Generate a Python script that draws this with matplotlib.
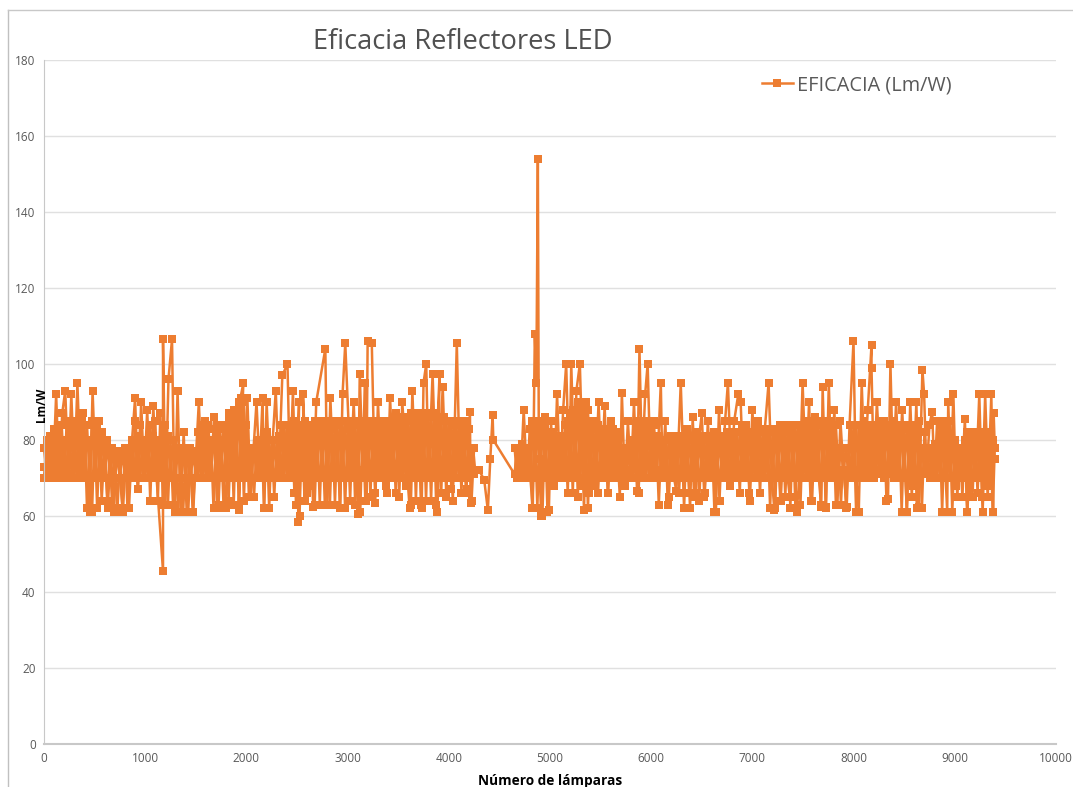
import matplotlib
matplotlib.use("Agg")
import matplotlib.pyplot as plt
from matplotlib.lines import Line2D

nan = float("nan")

# spikes and dips
lamparas = [
    0, 30, 60, 90, 120, 150, 180, 210, 240, 270,
    300, 330, 360, 390, 420, 450, 480, 510, 540, 570,
    600, 630, 660, 690, 720, 750, 780, 810, 840, 870,
    900, 930, 960, 990, 1020, 1050, 1080, 1110, 1176, 1176,
    1200, 1230, 1265, 1290, 1320, 1350, 1380, 1410, 1440, 1470,
    1500, 1530, 1560, 1590, 1620, 1650, 1680, 1710, 1740, 1770,
    1800, 1830, 1860, 1890, 1970, 1923, 1950, 1980, 2010, 2040,
    2100, 2130, 2160, 2174, 2200, 2230, 2260, 2290, 2320, 2355,
    2406, 2430, 2460, 2490, 2520, 2511, 2540, 2570, 2559, 2600,
    2630, 2660, 2690, 2780, 2800, 2830, 2860, 2890, 2926, 2950,
    2977, 3030, 3060, 3103, 3120, 3150, 3170, 3185, 3198, 3239,
    3273, 3300, 3330, 3360, 3390, 3420, 3450, 3480, 3510, 3540,
    3613, 3640, 3670, 3700, 3732, 3750, 3777, 3800, 3840, 3870,
    3909, 3885, 3940, 3970, 4000, 4040, 4079, 4110, 4140, 4170,
    4209, 4215, 4240, 4260, 4300, 4350, 4386, 4410, 4433, 4440,
    4650, 4680, 4710, 4740, 4770, 4800, 4830, 4850, 4865, 4880,
    4890, 4914, 4950, 4989, 5010, 5040, 5070, 5100, 5130, 5160,
    5190, 5210, 5240, 5261, 5295, 5336, 5360, 5390, 5420, 5450,
    5480, 5510, 5540, 5570, 5600, 5630, 5660, 5690, 5710, 5740,
    5770, 5800, 5830, 5860, 5884, 5910, 5940, 5965, 5995, 6025,
    6055, 6095, 6110, 6140, 6163, 6190, 6220, 6248, 6270, 6292,
    6320, 6350, 6384, 6410, 6440, 6470, 6500, 6530, 6560, 6590,
    6620, 6639, 6670, 6700, 6730, 6758, 6790, 6820, 6860, 6884,
    6910, 6940, 6970, 7000, 7030, 7060, 7090, 7120, 7160, 7190,
    7217, 7250, 7280, 7310, 7340, 7370, 7400, 7438, 7470, 7496,
    7530, 7560, 7590, 7620, 7650, 7680, 7694, 7727, 7755, 7780,
    7810, 7840, 7870, 7900, 7932, 7960, 7999, 8020, 8051, 8080,
    8110, 8140, 8177, 8177, 8200, 8230, 8260, 8290, 8320, 8340,
    8364, 8390, 8420, 8450, 8480, 8527, 8560, 8590, 8620, 8646,
    8680, 8697, 8720, 8750, 8776, 8800, 8830, 8860, 8890, 8925,
    8935, 8960, 8986, 9010, 9040, 9070, 9100, 9122, 9116, 9150,
    9180, 9210, 9242, 9270, 9300, 9330, 9361, 9378, 9384, 9395,
]

eficacia = [
    73, 70, 81, 71, 92, 70, 87, 93, 71, 92,
    70, 95, 72, 87, 70, 61, 93, 71, 85, 64,
    80, 62, 78, 61, 77, 70, 61, 78, 62, 80,
    91, 67, 90, 70, 88, 64, 89, 71, 45.5, 106.5,
    63, 96, 106.5, 61, 93, 61, 82, 61, 78, 61,
    75, 90, 70, 85, 76, 70, 86, 62, 83, 72,
    62, 87, 72, 84, 95, 61.5, 91, 73, 91, 65,
    90, 72, 91, 62, 90, 70, 80, 93, 71, 97,
    100, 70, 93, 63, 90, 58.5, 84, 71, 92, 66,
    82, 62.5, 90, 104, 63, 91, 70, 85, 62, 92,
    105.5, 71, 90, 60.5, 97.5, 72, 95, 64, 106, 105.5,
    63.5, 90, 72, 85, 66, 91, 72, 87, 65, 90,
    62, 93, 70, 87, 62, 95, 100, 70, 97.5, 72,
    97.5, 61, 94, 70, 85, 64, 105.5, 70, 85, 66,
    87.5, 63.5, 78, 72, 72, 69.5, 61.5, 75, 86.5, 80,
    71, 78, 70, 88, 71, 72, 62, 108, 95, 154,
    75, 60, 86, 61.5, 85, 68, 92, 70, 88, 100,
    70, 100, 72, 93, 100, 61.5, 90, 66, 85, 70,
    90, 71, 89, 66, 85, 70, 80, 65, 92.5, 68,
    85, 70, 90, 66.5, 104, 72, 92, 100, 70, 85,
    70, 95, 72, 85, 63, 80, 71, 66.5, 80, 95,
    72, 83, 62, 86, 66, 80, 87, 66, 85, 70,
    82, 61, 88, 70, 85, 95, 72, 85, 92, 90,
    71, 84, 66, 88, 70, 85, 71, 82, 95, 71,
    61.5, 80, 64, 82, 72, 65, 84, 61, 72, 95,
    70, 90, 64, 86, 72, 62.5, 94, 62.5, 95, 71,
    88, 63, 85, 72, 62.5, 84, 106, 72, 61, 95,
    72, 88, 105, 99, 70, 90, 75, 85, 72, 64.5,
    100, 71, 90, 70, 88, 61, 90, 68, 90, 62.5,
    98.5, 92, 71, 84, 87.5, 70, 78, 70, 82, 61,
    90, 70, 92, 68, 78, 70, 85.5, 61, 82, 65,
    80, 70, 92, 65, 92, 68, 92, 61, 87, 78,
]

# the dense core of the cloud, there is no data between 4250 and 4650 here
lamparas_core = [
    0, 25, 50, 75, 100, 125, 150, 175, 200, 225, 250, 275, 300, 325, 350, 375,
    400, 425, 450, 475, 500, 525, 550, 575, 600, 625, 650, 675, 700, 725, 750, 775,
    800, 825, 850, 875, 900, 925, 950, 975, 1000, 1025, 1050, 1075, 1100, 1125, 1150, 1175,
    1200, 1225, 1250, 1275, 1300, 1325, 1350, 1375, 1400, 1425, 1450, 1475, 1500, 1525, 1550, 1575,
    1600, 1625, 1650, 1675, 1700, 1725, 1750, 1775, 1800, 1825, 1850, 1875, 1900, 1925, 1950, 1975,
    2000, 2025, 2050, 2075, 2100, 2125, 2150, 2175, 2200, 2225, 2250, 2275, 2300, 2325, 2350, 2375,
    2400, 2425, 2450, 2475, 2500, 2525, 2550, 2575, 2600, 2625, 2650, 2675, 2700, 2725, 2750, 2775,
    2800, 2825, 2850, 2875, 2900, 2925, 2950, 2975, 3000, 3025, 3050, 3075, 3100, 3125, 3150, 3175,
    3200, 3225, 3250, 3275, 3300, 3325, 3350, 3375, 3400, 3425, 3450, 3475, 3500, 3525, 3550, 3575,
    3600, 3625, 3650, 3675, 3700, 3725, 3750, 3775, 3800, 3825, 3850, 3875, 3900, 3925, 3950, 3975,
    4000, 4025, 4050, 4075, 4100, 4125, 4150, 4175, 4200, 4225, 4250,
    nan,
    4650, 4675, 4700, 4725, 4750, 4775, 4800, 4825, 4850, 4875, 4900, 4925, 4950, 4975, 5000, 5025,
    5050, 5075, 5100, 5125, 5150, 5175, 5200, 5225, 5250, 5275, 5300, 5325, 5350, 5375, 5400, 5425,
    5450, 5475, 5500, 5525, 5550, 5575, 5600, 5625, 5650, 5675, 5700, 5725, 5750, 5775, 5800, 5825,
    5850, 5875, 5900, 5925, 5950, 5975, 6000, 6025, 6050, 6075, 6100, 6125, 6150, 6175, 6200, 6225,
    6250, 6275, 6300, 6325, 6350, 6375, 6400, 6425, 6450, 6475, 6500, 6525, 6550, 6575, 6600, 6625,
    6650, 6675, 6700, 6725, 6750, 6775, 6800, 6825, 6850, 6875, 6900, 6925, 6950, 6975, 7000, 7025,
    7050, 7075, 7100, 7125, 7150, 7175, 7200, 7225, 7250, 7275, 7300, 7325, 7350, 7375, 7400, 7425,
    7450, 7475, 7500, 7525, 7550, 7575, 7600, 7625, 7650, 7675, 7700, 7725, 7750, 7775, 7800, 7825,
    7850, 7875, 7900, 7925, 7950, 7975, 8000, 8025, 8050, 8075, 8100, 8125, 8150, 8175, 8200, 8225,
    8250, 8275, 8300, 8325, 8350, 8375, 8400, 8425, 8450, 8475, 8500, 8525, 8550, 8575, 8600, 8625,
    8650, 8675, 8700, 8725, 8750, 8775, 8800, 8825, 8850, 8875, 8900, 8925, 8950, 8975, 9000, 9025,
    9050, 9075, 9100, 9125, 9150, 9175, 9200, 9225, 9250, 9275, 9300, 9325, 9350, 9375, 9395,
]

eficacia_core = [
    70, 80, 70, 81, 70, 80, 70, 84, 70, 85, 70, 84, 70, 85, 70, 85,
    70, 84, 70, 85, 70, 84, 70, 82, 70, 80, 70, 78, 70, 77, 70, 77,
    70, 78, 70, 80, 70, 81, 70, 80, 70, 80, 70, 81, 70, 80, 70, 80,
    70, 81, 70, 80, 70, 78, 70, 78, 70, 77, 70, 77, 70, 82, 70, 84,
    70, 84, 70, 83, 70, 84, 70, 84, 70, 85, 70, 88, 70, 90, 70, 90,
    70, 78, 70, 78, 70, 80, 70, 81, 70, 80, 70, 80, 70, 81, 70, 84,
    70, 84, 70, 85, 70, 84, 70, 85, 70, 84, 70, 85, 70, 85, 70, 85,
    70, 85, 70, 85, 70, 85, 70, 85, 70, 85, 70, 85, 70, 85, 70, 85,
    70, 85, 70, 85, 70, 85, 70, 85, 70, 85, 70, 85, 70, 85, 70, 86,
    70, 87, 70, 87, 70, 86, 70, 87, 70, 86, 70, 87, 70, 85, 70, 85,
    70, 85, 70, 84, 70, 85, 70, 85, 70, 78, 71,
    nan,
    71, 78, 70, 79, 70, 78, 70, 85, 70, 85, 70, 85, 70, 85, 70, 82,
    70, 81, 70, 80, 70, 85, 70, 88, 70, 90, 70, 90, 70, 88, 70, 84,
    70, 84, 70, 83, 70, 83, 70, 83, 70, 82, 70, 78, 72, 76, 70, 80,
    70, 85, 70, 85, 70, 85, 70, 84, 70, 81, 70, 80, 70, 80, 70, 80,
    70, 81, 70, 80, 70, 81, 70, 80, 70, 81, 70, 80, 70, 81, 70, 80,
    70, 81, 70, 80, 70, 81, 70, 82, 70, 82, 70, 81, 70, 82, 70, 80,
    70, 82, 70, 83, 70, 82, 70, 83, 70, 84, 70, 83, 70, 84, 70, 84,
    70, 84, 70, 85, 70, 85, 70, 85, 70, 85, 70, 85, 70, 85, 70, 84,
    71, 78, 71, 78, 70, 84, 70, 84, 70, 84, 70, 84, 70, 84, 70, 84,
    71, 84, 70, 84, 71, 84, 70, 84, 70, 84, 70, 84, 70, 84, 70, 84,
    70, 78, 71, 78, 70, 78, 70, 85, 70, 85, 70, 84, 70, 78, 70, 78,
    71, 78, 70, 78, 70, 80, 70, 82, 70, 82, 70, 82, 70, 80, 75,
]

# second run over the same lamps, this one also carries the low stalactites
eficacia_core2 = [
    78, 70, 80, 70, 83, 70, 82, 72, 80, 70, 84, 70, 82, 70, 85, 70,
    84, 62, 80, 61, 84, 62, 82, 70, 78, 64, 76, 62, 77, 61, 76, 62,
    78, 62, 77, 70, 85, 67, 84, 70, 80, 70, 84, 70, 85, 64, 87, 63,
    84, 63, 80, 63, 76, 61, 77, 61, 76, 61, 76, 61, 76, 70, 82, 70,
    83, 70, 80, 62, 82, 63, 80, 62, 83, 64, 84, 63, 88, 62, 90, 64,
    84, 65, 76, 65, 78, 70, 80, 62, 82, 62, 80, 65, 80, 70, 84, 70,
    84, 70, 82, 66, 84, 60, 83, 64, 84, 68, 82, 63, 84, 63, 83, 63,
    84, 63, 83, 63, 84, 62, 85, 62, 83, 64, 85, 63, 84, 61, 85, 64,
    85, 65, 84, 66, 85, 70, 84, 68, 85, 70, 84, 66, 83, 70, 86, 68,
    85, 63, 87, 64, 85, 63, 87, 64, 86, 64, 87, 63, 85, 66, 86, 65,
    85, 67, 84, 70, 85, 66, 85, 67, 83, 64, 78,
    nan,
    78, 70, 77, 72, 78, 70, 83, 62, 84, 62, 85, 60, 84, 61, 82, 70,
    80, 72, 81, 70, 84, 66, 87, 66, 88, 65, 88, 68, 86, 62, 82, 68,
    83, 66, 82, 70, 82, 66, 82, 70, 81, 70, 78, 72, 75, 70, 78, 70,
    84, 66, 84, 70, 84, 70, 83, 72, 81, 63, 80, 70, 80, 65, 81, 70,
    80, 66, 81, 62, 81, 66, 80, 65, 82, 64, 80, 65, 81, 70, 80, 61,
    80, 64, 81, 70, 82, 68, 81, 70, 82, 66, 84, 70, 82, 64, 81, 70,
    83, 66, 82, 70, 83, 62, 82, 62, 83, 64, 84, 65, 83, 62, 84, 62,
    84, 63, 84, 70, 85, 64, 84, 70, 84, 63, 85, 62, 85, 70, 84, 63,
    78, 63, 78, 62, 78, 71, 84, 61, 84, 70, 85, 70, 84, 70, 84, 72,
    84, 72, 85, 64, 84, 72, 85, 70, 84, 61, 83, 61, 84, 65, 84, 62,
    85, 62, 82, 71, 78, 70, 79, 70, 84, 61, 84, 70, 85, 61, 80, 65,
    78, 65, 80, 61, 78, 65, 82, 66, 81, 61, 82, 65, 82, 61, 78,
]

x_ticks = [0, 1000, 2000, 3000, 4000, 5000, 6000, 7000, 8000, 9000, 10000]
y_ticks = [0, 20, 40, 60, 80, 100, 120, 140, 160, 180]

W, H = 1073, 787
naranja = "#ed7d31"
gris = "#595959"
plt.rcParams["font.family"] = ["Open Sans", "DejaVu Sans"]

fig = plt.figure(figsize=(W / 100, H / 100), dpi=100)
ax = fig.add_axes([44 / W, 1 - 744 / H, 1012 / W, 684 / H])

estilo = dict(color=naranja, lw=1.8, marker="s", ms=6.3, mew=0, clip_on=False)
ax.plot(lamparas_core, eficacia_core, **estilo)
ax.plot(lamparas_core, eficacia_core2, **estilo)
ax.plot(lamparas, eficacia, **estilo)

ax.set_xlim(0, 10000)
ax.set_ylim(0, 180)
ax.set_xticks(x_ticks)
ax.set_yticks(y_ticks)
ax.tick_params(length=0, labelsize=8.5, labelcolor=gris, pad=6)
ax.grid(axis="y", color="#e0e0e0", lw=1)
ax.set_axisbelow(True)
for s in ["top", "right"]:
    ax.spines[s].set_visible(False)
ax.spines["left"].set_color("#c8c8c8")
ax.spines["bottom"].set_color("#c8c8c8")
ax.spines["bottom"].set_linewidth(1.5)

fig.text(463 / W, 1 - 42 / H, "Eficacia Reflectores LED", ha="center", va="center",
         fontsize=19.6, color="#505050")
fig.text(550 / W, 1 - 781 / H, "Número de lámparas", ha="center", va="center",
         fontsize=9.8, fontweight="bold", color="black")
fig.text(41 / W, 1 - 405 / H, "Lm/W", ha="center", va="center", rotation=90,
         fontsize=8.5, fontweight="bold", color="black")

# legend
h = Line2D([], [], color=naranja, lw=1.8, marker="s", ms=5.6, mew=0)
ax.legend([h], ["EFICACIA (Lm/W)"], loc="center left", bbox_to_anchor=(718 / 1012, 1 - 25 / 684),
          frameon=False, fontsize=14.3, labelcolor=gris, handlelength=1.55, handletextpad=0.2,
          borderpad=0, borderaxespad=0)

# screenshot border
fig.add_artist(Line2D([8 / W, 8 / W], [0, 1 - 10 / H], color="#c0c0c0", lw=1))
fig.add_artist(Line2D([8 / W, 1], [1 - 10 / H, 1 - 10 / H], color="#c8c8c8", lw=1))

fig.savefig("out.png", dpi=100)
